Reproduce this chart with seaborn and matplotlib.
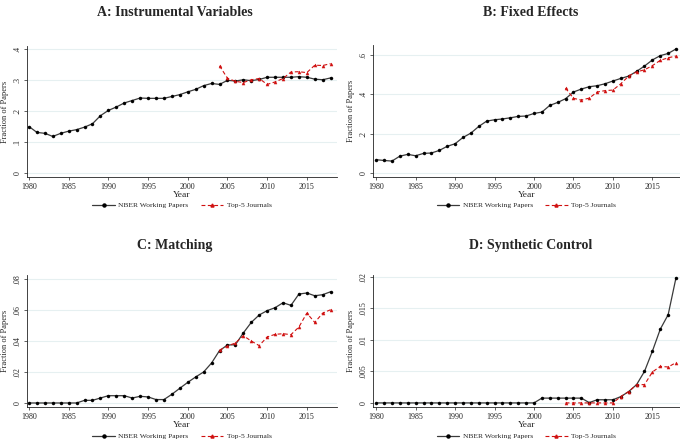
import numpy as np
import pandas as pd
import matplotlib
matplotlib.use("Agg")
import matplotlib.pyplot as plt
import seaborn as sns
from matplotlib.lines import Line2D

years = list(range(1980, 2019))
top5_years = list(range(2004, 2019))

# Share of papers mentioning each method
iv_nber = [0.150, 0.131, 0.128, 0.118, 0.128, 0.135, 0.140, 0.148, 0.159, 0.185,
           0.202, 0.213, 0.226, 0.234, 0.242, 0.241, 0.241, 0.241, 0.247, 0.253,
           0.262, 0.270, 0.282, 0.289, 0.286, 0.299, 0.297, 0.301, 0.298, 0.302,
           0.309, 0.309, 0.309, 0.309, 0.311, 0.309, 0.303, 0.301, 0.307]
iv_top5 = [0.346, 0.306, 0.296, 0.292, 0.301, 0.305, 0.286, 0.294, 0.305, 0.326,
           0.327, 0.324, 0.348, 0.347, 0.353]

fe_nber = [0.068, 0.064, 0.061, 0.086, 0.095, 0.088, 0.100, 0.102, 0.115, 0.136,
           0.149, 0.181, 0.203, 0.237, 0.264, 0.271, 0.275, 0.281, 0.288, 0.290,
           0.303, 0.310, 0.344, 0.359, 0.378, 0.412, 0.427, 0.439, 0.444, 0.454,
           0.468, 0.481, 0.493, 0.517, 0.544, 0.575, 0.597, 0.608, 0.631]
fe_top5 = [0.432, 0.380, 0.371, 0.381, 0.412, 0.419, 0.422, 0.454, 0.493, 0.514,
           0.525, 0.546, 0.573, 0.586, 0.595]

match_nber = [0.0, 0.0, 0.0, 0.0, 0.0, 0.0, 0.0, 0.0017, 0.0017, 0.0032,
              0.0047, 0.0047, 0.0047, 0.0032, 0.0043, 0.0039, 0.0022, 0.0022, 0.0056, 0.0095,
              0.0133, 0.0168, 0.0200, 0.0258, 0.0338, 0.0374, 0.0376, 0.0452, 0.0520, 0.0568,
              0.0596, 0.0615, 0.0647, 0.0630, 0.0703, 0.0710, 0.0692, 0.0699, 0.0718]
match_top5 = [0.0340, 0.0368, 0.0387, 0.0434, 0.0400, 0.0370, 0.0426, 0.0443, 0.0447, 0.0441,
              0.0490, 0.0580, 0.0520, 0.0580, 0.0602]

sc_nber = [0.0] * 21 + [0.00076, 0.00076, 0.00076, 0.00076, 0.00076, 0.00076, 0.00005,
                        0.0005, 0.0005, 0.0005, 0.0010, 0.0018, 0.0029, 0.0050, 0.0082,
                        0.0117, 0.0140, 0.0199]
sc_top5 = [0.0, 0.0, 0.0, 0.0, 0.0, 0.0, 0.0, 0.0010, 0.0018, 0.0029,
           0.0029, 0.0049, 0.0058, 0.0057, 0.0064]

titles = ["A: Instrumental Variables", "B: Fixed Effects", "C: Matching", "D: Synthetic Control"]
series_nber = [iv_nber, fe_nber, match_nber, sc_nber]
series_top5 = [iv_top5, fe_top5, match_top5, sc_top5]
yticks = [[0, 0.1, 0.2, 0.3, 0.4], [0, 0.2, 0.4, 0.6],
          [0, 0.02, 0.04, 0.06, 0.08], [0, 0.005, 0.01, 0.015, 0.02]]
ytick_labels = [["0", ".1", ".2", ".3", ".4"], ["0", ".2", ".4", ".6"],
                ["0", ".02", ".04", ".06", ".08"], ["0", ".005", ".01", ".015", ".02"]]
ylims = [(-0.013, 0.41), (-0.02, 0.651), (-0.0026, 0.0826), (-0.00065, 0.0203)]
xticks = [1980, 1985, 1990, 1995, 2000, 2005, 2010, 2015]
legend_labels = ["NBER Working Papers", "Top-5 Journals"]

sns.set_theme(style="white")
plt.rcParams["font.family"] = ["Liberation Serif", "DejaVu Serif"]

W, H = 680, 442
fig = plt.figure(figsize=(W / 100, H / 100), dpi=100)
fig.patch.set_facecolor("white")

# axes boxes in pixels: left, top, right, bottom
boxes = [(27, 46, 337, 177), (373, 45, 680, 177), (27, 275, 337, 407), (373, 275, 680, 407)]
xlims = [(1979.75, 2018.8), (1979.6, 2018.5), (1979.75, 2018.8), (1979.6, 2018.5)]
title_pos = [(175, 13), (531, 13), (175, 246), (531, 246)]
legend_y = [205, 205, 436, 436]

nber_color = "#3a3a3a"
top5_color = "#d01010"
dash = (0, (3.5, 2.2))
ms = 2.2

for i in range(4):
    l, t, r, b = boxes[i]
    ax = fig.add_axes([l / W, 1 - b / H, (r - l) / W, (b - t) / H])
    ax.set_facecolor("white")
    sns.lineplot(x=years, y=series_nber[i], ax=ax, color=nber_color, lw=0.9,
                 marker="o", markersize=ms, markerfacecolor="black",
                 markeredgecolor="black", markeredgewidth=0.3, clip_on=False)
    sns.lineplot(x=top5_years, y=series_top5[i], ax=ax, color=top5_color, lw=0.8,
                 linestyle=dash, marker="^", markersize=ms,
                 markerfacecolor=top5_color, markeredgecolor=top5_color,
                 markeredgewidth=0.3, clip_on=False)
    ax.set_xlim(*xlims[i])
    ax.set_ylim(*ylims[i])
    ax.set_xticks(xticks)
    ax.set_xticklabels([str(x) for x in xticks], fontsize=5.8)
    ax.set_yticks(yticks[i])
    ax.set_yticklabels(ytick_labels[i], fontsize=5.8, rotation=90, va="center")
    for yv in yticks[i]:
        ax.axhline(yv, color="#e6f0f1", lw=0.8, zorder=0)
    for s in ["top", "right"]:
        ax.spines[s].set_visible(False)
    for s in ["left", "bottom"]:
        ax.spines[s].set_color("#222222")
        ax.spines[s].set_linewidth(0.6)
    ax.tick_params(axis="both", direction="out", length=2.5, width=0.5,
                   color="#222222", pad=1.5, bottom=True, left=True)
    ax.set_xlabel("Year", fontsize=6.8, labelpad=0)
    ax.set_ylabel("Fraction of Papers", fontsize=6.0, labelpad=3)
    ax.grid(False)

    tx, ty = title_pos[i]
    fig.text(tx / W, 1 - ty / H, titles[i], ha="center", va="center",
             fontsize=10, fontweight="bold")

    handles = [
        Line2D([], [], color=nber_color, lw=0.9, marker="o", markersize=ms,
               markerfacecolor="black", markeredgecolor="black"),
        Line2D([], [], color=top5_color, lw=0.8, linestyle=dash,
               marker="^", markersize=ms, markerfacecolor=top5_color,
               markeredgecolor=top5_color),
    ]
    fig.legend(handles, legend_labels, loc="center",
               bbox_to_anchor=((l + r) / 2 / W, 1 - legend_y[i] / H),
               ncol=2, frameon=False, fontsize=5.4, handlelength=3.0,
               columnspacing=1.6, handletextpad=0.5)

fig.savefig("out.png", dpi=100, facecolor="white")
